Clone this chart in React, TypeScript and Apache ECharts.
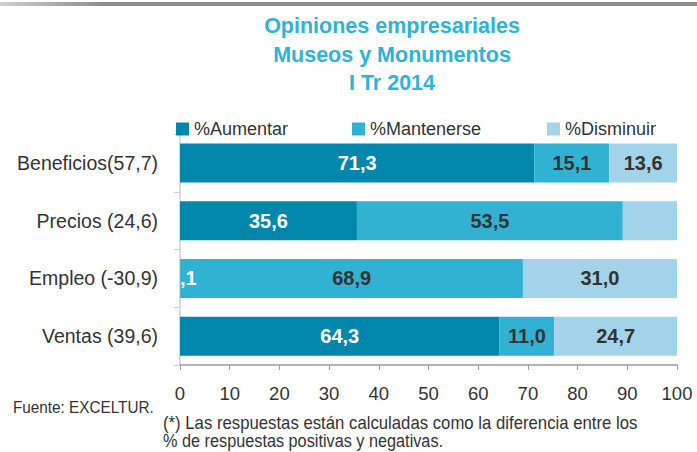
import React, { useEffect, useRef } from "react";
import * as echarts from "echarts";

const categories = ["Beneficios(57,7)", "Precios (24,6)", "Empleo (-30,9)", "Ventas (39,6)"];
const seriesNames = ["%Aumentar", "%Mantenerse", "%Disminuir"];
const aumentar = [71.3, 35.6, 0.1, 64.3];
const mantenerse = [15.1, 53.5, 68.9, 11.0];
const disminuir = [13.6, 10.9, 31.0, 24.7];
const xTicks = [0, 10, 20, 30, 40, 50, 60, 70, 80, 90, 100];
const titleLines = ["Opiniones empresariales", "Museos y Monumentos", "I Tr 2014"];
const sourceText = "Fuente: EXCELTUR.";
const noteLines = [
  "(*) Las respuestas están calculadas como la diferencia entre los",
  "% de respuestas positivas y negativas.",
];

const COLORS = ["#0187ab", "#32b2d2", "#a3d3e8"];
const FONT = "'Liberation Sans', Arial, sans-serif";

const fmt = (v: number) => v.toFixed(1).replace(".", ",");

export default function App() {
  const ref = useRef<HTMLDivElement>(null);
  useEffect(() => {
    if (!ref.current) return;
    const chart = echarts.init(ref.current, undefined, { renderer: "svg" });

    const mkLabel = (color: string) => ({
      show: true,
      position: "inside",
      color,
      fontFamily: FONT,
      fontWeight: "bold",
      fontSize: 20,
      formatter: (p: any) => fmt(p.value),
    });

    const aumData = aumentar.map((v) =>
      v < 1
        ? { value: v, label: { position: "insideLeft", distance: 0, formatter: "," + fmt(v).split(",")[1] } }
        : v
    );
    const disData = disminuir.map((v, i) => (i === 1 ? { value: v, label: { show: false } } : v));

    const option: any = {
      animation: false,
      backgroundColor: "#ffffff",
      title: {
        text: titleLines.join("\n"),
        left: 387,
        top: 7,
        textAlign: "center",
        textStyle: {
          color: "#2fb3d7",
          fontFamily: FONT,
          fontWeight: "bold",
          fontSize: 21.5,
          lineHeight: 28.5,
        },
      },
      legend: [0, 1, 2].map((i) => ({
        data: [seriesNames[i]],
        left: [171, 347, 542][i],
        top: 115,
        itemWidth: 13,
        itemHeight: 13,
        icon: "rect",
        textStyle: { color: "#333333", fontFamily: FONT, fontSize: 18 },
      })),
      grid: { left: 180, right: 20, top: 134, bottom: 87 },
      xAxis: {
        type: "value",
        min: xTicks[0],
        max: xTicks[xTicks.length - 1],
        interval: 10,
        axisLine: { show: true, lineStyle: { color: "#9a9a9a", width: 1.5 } },
        axisTick: { show: true, length: 5, lineStyle: { color: "#9a9a9a" } },
        splitLine: { show: false },
        axisLabel: { color: "#333333", fontFamily: FONT, fontSize: 18.5, margin: 19 },
      },
      yAxis: {
        type: "category",
        inverse: true,
        data: categories,
        axisLine: { show: true, lineStyle: { color: "#cfcfcf", width: 1.5 } },
        axisTick: { show: true, length: 6, lineStyle: { color: "#cfcfcf" } },
        axisLabel: { color: "#333333", fontFamily: FONT, fontSize: 19.5, margin: 22 },
      },
      series: [
        { name: seriesNames[0], type: "bar", stack: "t", barWidth: 39, data: aumData, itemStyle: { color: COLORS[0] }, label: mkLabel("#ffffff") },
        { name: seriesNames[1], type: "bar", stack: "t", barWidth: 39, data: mantenerse, itemStyle: { color: COLORS[1] }, label: mkLabel("#333333") },
        { name: seriesNames[2], type: "bar", stack: "t", barWidth: 39, data: disData, itemStyle: { color: COLORS[2] }, label: mkLabel("#333333") },
      ],
      graphic: [
        {
          type: "rect",
          shape: { x: 0, y: 2, width: 697, height: 4 },
          style: {
            fill: new echarts.graphic.LinearGradient(0, 0, 1, 0, [
              { offset: 0, color: "#d0d0d0" },
              { offset: 0.15, color: "#8c8c8c" },
              { offset: 1, color: "#8c8c8c" },
            ]),
          },
          silent: true,
        },
        {
          type: "text",
          x: 13,
          y: 398,
          scaleX: 0.9,
          style: { text: sourceText, fill: "#333333", fontSize: 17, fontFamily: FONT },
        },
        {
          type: "text",
          x: 163,
          y: 414,
          scaleX: 0.93,
          style: { text: noteLines[0], fill: "#333333", fontSize: 18, fontFamily: FONT },
        },
        {
          type: "text",
          x: 163,
          y: 432,
          scaleX: 0.93,
          style: { text: noteLines[1], fill: "#333333", fontSize: 17.5, fontFamily: FONT },
        },
      ],
    };
    chart.setOption(option);
    return () => chart.dispose();
  }, []);
  return <div ref={ref} style={{ width: 697, height: 452, position: "absolute", left: 0, top: 0 }} />;
}
